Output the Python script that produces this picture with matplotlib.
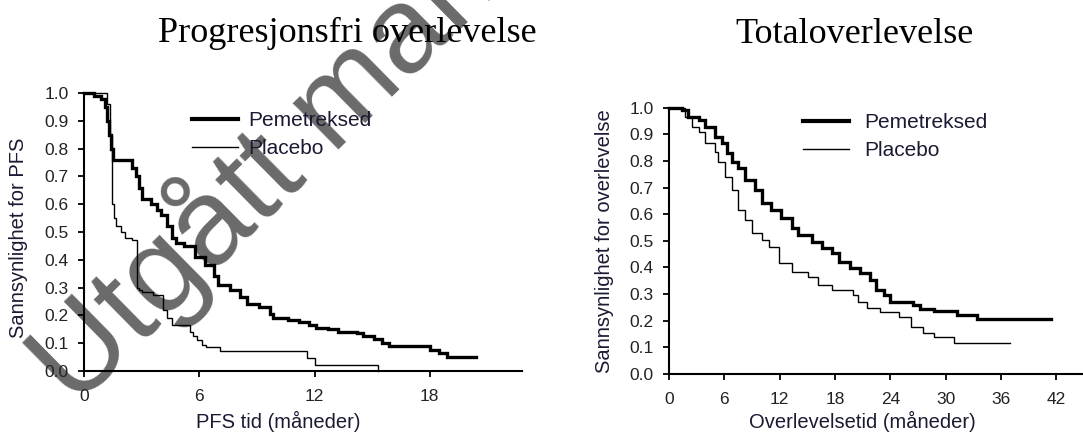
"""Kaplan-Meier curves: progression-free survival and overall survival,
pemetrexed vs placebo (two panels side by side)."""
import matplotlib
matplotlib.use("Agg")
import matplotlib.pyplot as plt
from matplotlib.lines import Line2D

# --- Data ---
# PFS, Pemetreksed
pfs_pem_t = [0, 0.5, 0.9, 1.1, 1.2, 1.3, 1.4, 1.5, 2.5, 2.7, 2.85, 3.0, 3.5, 3.8, 4.0, 4.3,
             4.6, 4.8, 5.2, 5.8, 6.3, 6.75, 7.0, 7.6, 8.1, 8.5, 9.1, 9.7, 9.85, 10.6, 11.2,
             11.7, 12.1, 12.7, 13.2, 14.2, 14.5, 15.1, 15.5, 15.9, 18.0, 18.5, 18.9, 20.4]
pfs_pem_s = [1.0, 0.99, 0.98, 0.95, 0.90, 0.85, 0.80, 0.76, 0.73, 0.70, 0.66, 0.62, 0.60,
             0.58, 0.56, 0.52, 0.48, 0.46, 0.45, 0.41, 0.38, 0.34, 0.31, 0.29, 0.265, 0.24,
             0.23, 0.205, 0.19, 0.185, 0.175, 0.165, 0.155, 0.15, 0.14, 0.135, 0.125, 0.115,
             0.10, 0.09, 0.075, 0.065, 0.05, 0.05]
# PFS, Placebo
pfs_pla_t = [0, 1.2, 1.35, 1.45, 1.55, 1.65, 1.95, 2.15, 2.5, 2.75, 2.85, 3.0, 3.6, 4.1,
             4.3, 4.6, 5.5, 5.65, 5.9, 6.15, 6.35, 7.1, 11.6, 12.0, 15.3]
pfs_pla_s = [1.0, 0.96, 0.85, 0.60, 0.55, 0.52, 0.50, 0.48, 0.47, 0.30, 0.29, 0.285, 0.275,
             0.22, 0.19, 0.165, 0.14, 0.125, 0.11, 0.095, 0.085, 0.072, 0.045, 0.02, 0.0]

# OS, Pemetreksed
os_pem_t = [0, 0.3, 1.4, 2.1, 3.2, 3.9, 5.0, 5.7, 6.3, 6.8, 7.5, 8.25, 9.3, 10.1, 11.1, 12.2,
            13.3, 14.0, 15.5, 16.6, 17.7, 18.4, 19.6, 20.7, 21.8, 22.4, 23.3, 24.0, 26.5,
            27.2, 28.7, 31.2, 33.4, 41.4]
os_pem_s = [1.0, 1.0, 0.99, 0.966, 0.954, 0.929, 0.891, 0.866, 0.829, 0.797, 0.772, 0.728,
            0.691, 0.641, 0.616, 0.585, 0.547, 0.522, 0.497, 0.472, 0.453, 0.422, 0.397,
            0.378, 0.353, 0.316, 0.297, 0.272, 0.26, 0.243, 0.238, 0.222, 0.207, 0.207]
# OS, Placebo
os_pla_t = [0, 0.3, 1.7, 2.5, 3.2, 3.9, 5.0, 5.35, 6.1, 6.8, 7.5, 8.25, 9.0, 10.1, 10.8,
            11.9, 13.3, 15.1, 16.2, 17.7, 20.0, 20.5, 21.5, 22.9, 24.9, 26.2, 27.6, 28.7,
            30.9, 37.0]
os_pla_s = [1.0, 1.0, 0.966, 0.929, 0.91, 0.866, 0.835, 0.797, 0.741, 0.691, 0.616, 0.579,
            0.528, 0.503, 0.478, 0.416, 0.384, 0.366, 0.335, 0.316, 0.297, 0.272, 0.247,
            0.234, 0.215, 0.178, 0.153, 0.14, 0.115, 0.115]

groups = ["Pemetreksed", "Placebo"]
y_ticks = [0.0, 0.1, 0.2, 0.3, 0.4, 0.5, 0.6, 0.7, 0.8, 0.9, 1.0]

SANS = "Liberation Sans"
SERIF = "Liberation Serif"
TXT = "#1a1a33"
W, H = 1083, 436

fig = plt.figure(figsize=(W / 100, H / 100), dpi=100)


def px_axes(x0, x1, ytop, ybot):
    ax = fig.add_axes([x0 / W, 1 - ybot / H, (x1 - x0) / W, (ybot - ytop) / H])
    ax.set_facecolor("none")
    return ax


def style(ax, xmax, xticks):
    for s in ("top", "right"):
        ax.spines[s].set_visible(False)
    for s in ("left", "bottom"):
        ax.spines[s].set_linewidth(1.5)
    ax.set_xlim(0, xmax)
    ax.set_ylim(0, 1.0)
    ax.set_xticks(xticks)
    ax.set_yticks(y_ticks)
    ax.set_yticklabels([f"{v:.1f}" for v in y_ticks])
    ax.tick_params(direction="out", length=4, width=1.3, labelsize=12.5)
    ax.tick_params(axis="y", pad=7)
    ax.tick_params(axis="x", pad=9)
    for lab in ax.get_xticklabels() + ax.get_yticklabels():
        lab.set_fontfamily(SANS)
        lab.set_color("#222222")


def km(ax, t, s, lw):
    ax.step(t, s, where="post", color="black", linewidth=lw, clip_on=False,
            solid_joinstyle="miter")


handles = [Line2D([], [], color="black", linewidth=3.0),
           Line2D([], [], color="black", linewidth=1.0)]

# watermark, behind the plots
fig.text(75 / W, 1 - 409 / H, "Utgått markedsføringstillatelse", family=SANS, fontsize=88.5,
         rotation=44.6, rotation_mode="anchor", ha="left", va="baseline",
         color="#6a6a6a", zorder=-1)

# ============================================================
# Left: progression-free survival
# ============================================================
ax1 = px_axes(84, 522, 93, 371)
km(ax1, pfs_pem_t, pfs_pem_s, 2.4)
km(ax1, pfs_pla_t, pfs_pla_s, 1.0)
style(ax1, 22.8, [0, 6, 12, 18])
ax1.set_xlabel("PFS tid (måneder)", fontsize=14.5, family=SANS, color=TXT)
ax1.set_ylabel("Sannsynlighet for PFS", fontsize=14.5, family=SANS, color=TXT)
ax1.xaxis.set_label_coords((278 - 84) / 438, (371 - 411) / 278)
ax1.yaxis.set_label_coords((28 - 84) / 438, 0.48)
fig.text(347 / W, 1 - 42 / H, "Progresjonsfri overlevelse", family=SERIF, fontsize=26,
         ha="center", va="baseline", color="black")
ax1.legend(handles, groups, loc="upper left", bbox_to_anchor=(192 / W, 1 - 111 / H),
           bbox_transform=fig.transFigure, frameon=False, borderpad=0, borderaxespad=0,
           handlelength=2.2, handletextpad=0.5, labelspacing=0.45,
           prop={"family": SANS, "size": 15}, labelcolor=TXT)

# ============================================================
# Right: overall survival
# ============================================================
ax2 = px_axes(669, 1083, 107.7, 374)
km(ax2, os_pem_t, os_pem_s, 2.4)
km(ax2, os_pla_t, os_pla_s, 1.0)
style(ax2, 44.9, [0, 6, 12, 18, 24, 30, 36, 42])
ax2.set_xlabel("Overlevelsetid (måneder)", fontsize=14.5, family=SANS, color=TXT)
ax2.set_ylabel("Sannsynlighet for overlevelse", fontsize=14.5, family=SANS, color=TXT)
ax2.xaxis.set_label_coords((862 - 669) / 414, (374 - 411) / 266.3)
ax2.yaxis.set_label_coords((614 - 669) / 414, 0.5)
fig.text(855 / W, 1 - 43 / H, "Totaloverlevelse", family=SERIF, fontsize=26,
         ha="center", va="baseline", color="black")
ax2.legend(handles, groups, loc="upper left", bbox_to_anchor=(803 / W, 1 - 113 / H),
           bbox_transform=fig.transFigure, frameon=False, borderpad=0, borderaxespad=0,
           handlelength=2.2, handletextpad=0.75, labelspacing=0.45,
           prop={"family": SANS, "size": 15}, labelcolor=TXT)

fig.savefig("out.png", dpi=100)
